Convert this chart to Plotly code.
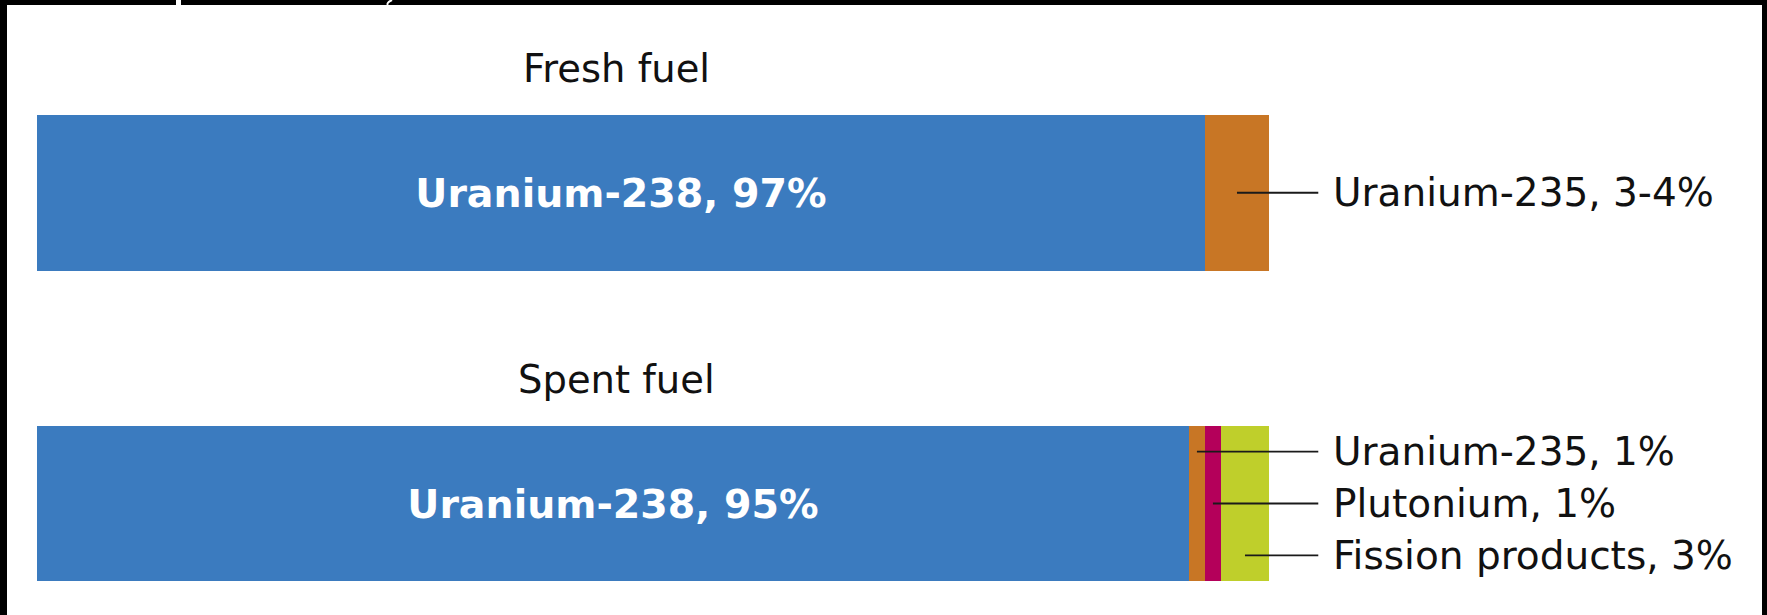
import plotly.graph_objects as go

# ---- data ----
bars = ["Spent fuel", "Fresh fuel"]            # y categories, bottom to top
components = ["Uranium-238", "Uranium-235", "Plutonium", "Fission products"]
colors = ["#3b7bbf", "#c87625", "#b4005a", "#bfcf2b"]
# share of bar length per component, for [Spent, Fresh]
u238 = [93.5, 94.8]
u235 = [1.3, 5.2]
plutonium = [1.3, 0.0]
fission = [3.9, 0.0]
inside_labels = ["Uranium-238, 95%", "Uranium-238, 97%"]
fresh_side_labels = ["Uranium-235, 3-4%"]
spent_side_labels = ["Uranium-235, 1%", "Plutonium, 1%", "Fission products, 3%"]
spent_label_offsets = [0.167, 0.0, -0.167]

FONT = "DejaVu Sans"
W, H = 1767, 615

fig = go.Figure()
series = [u238, u235, plutonium, fission]
for name, vals, col in zip(components, series, colors):
    fig.add_trace(go.Bar(
        y=bars, x=vals, name=name, orientation="h",
        marker=dict(color=col, line=dict(width=0)),
        width=0.501,
        text=inside_labels if name == "Uranium-238" else None,
        textposition="inside" if name == "Uranium-238" else "none",
        insidetextanchor="middle",
        textfont=dict(family=FONT, size=39.5, color="white", weight="bold"),
        hoverinfo="skip",
    ))

# segment midpoints for leader lines
def mids(idx):
    out, acc = [], 0.0
    for s in series:
        v = s[idx]
        out.append(acc + v / 2.0)
        acc += v
    return out

spent_mid = mids(0)
fresh_mid = mids(1)

line_end = 104.0
text_x = 105.0
shapes = []
annotations = []

# titles
for yi, title in enumerate(bars):
    annotations.append(dict(x=47, y=yi + 0.40, xref="x", yref="y", text=title,
                            showarrow=False, xanchor="center", yanchor="middle",
                            font=dict(family=FONT, size=38.5, color="#111111")))

# fresh side label
shapes.append(dict(type="line", xref="x", yref="y", x0=fresh_mid[1], x1=line_end,
                   y0=1, y1=1, line=dict(color="#1a1a1a", width=1.8)))
annotations.append(dict(x=text_x, y=1, xref="x", yref="y", text=fresh_side_labels[0],
                        showarrow=False, xanchor="left", yanchor="middle",
                        font=dict(family=FONT, size=39, color="#111111")))

# spent side labels
for k, (lab, off) in enumerate(zip(spent_side_labels, spent_label_offsets)):
    yy = 0 + off
    shapes.append(dict(type="line", xref="x", yref="y", x0=spent_mid[k + 1], x1=line_end,
                       y0=yy, y1=yy, line=dict(color="#1a1a1a", width=1.8)))
    annotations.append(dict(x=text_x, y=yy, xref="x", yref="y", text=lab,
                            showarrow=False, xanchor="left", yanchor="middle",
                            font=dict(family=FONT, size=39, color="#111111")))

# black frame edges (top, left, right) and small white gap artifacts at top
shapes += [
    dict(type="rect", xref="paper", yref="paper", x0=0, x1=1, y0=1 - 5 / H, y1=1,
         fillcolor="black", line=dict(width=0), layer="above"),
    dict(type="rect", xref="paper", yref="paper", x0=0, x1=7 / W, y0=0, y1=1,
         fillcolor="black", line=dict(width=0), layer="above"),
    dict(type="rect", xref="paper", yref="paper", x0=1762 / W, x1=1, y0=0, y1=1,
         fillcolor="black", line=dict(width=0), layer="above"),
    dict(type="rect", xref="paper", yref="paper", x0=176 / W, x1=181 / W, y0=1 - 5 / H, y1=1,
         fillcolor="white", line=dict(width=0), layer="above"),
    dict(type="path", xref="paper", yref="paper",
         path=f"M {392 / W},{1.0} Q {386 / W},{1 - 3 / H} {388 / W},{1 - 5 / H}",
         line=dict(color="white", width=2), layer="above"),
]

px_per_unit = 12.32
xmin = -37 / px_per_unit
xmax = xmin + W / px_per_unit

fig.update_layout(
    width=W, height=H,
    barmode="stack",
    showlegend=False,
    margin=dict(l=0, r=0, t=0, b=0),
    paper_bgcolor="white", plot_bgcolor="white",
    xaxis=dict(range=[xmin, xmax], visible=False, fixedrange=True),
    yaxis=dict(range=[-0.3588, 1.6203], visible=False, fixedrange=True,
               categoryorder="array", categoryarray=bars),
    shapes=shapes,
    annotations=annotations,
)

fig.write_html("out.html", config={"displayModeBar": False},
               post_script="document.body.style.margin='0px';")
